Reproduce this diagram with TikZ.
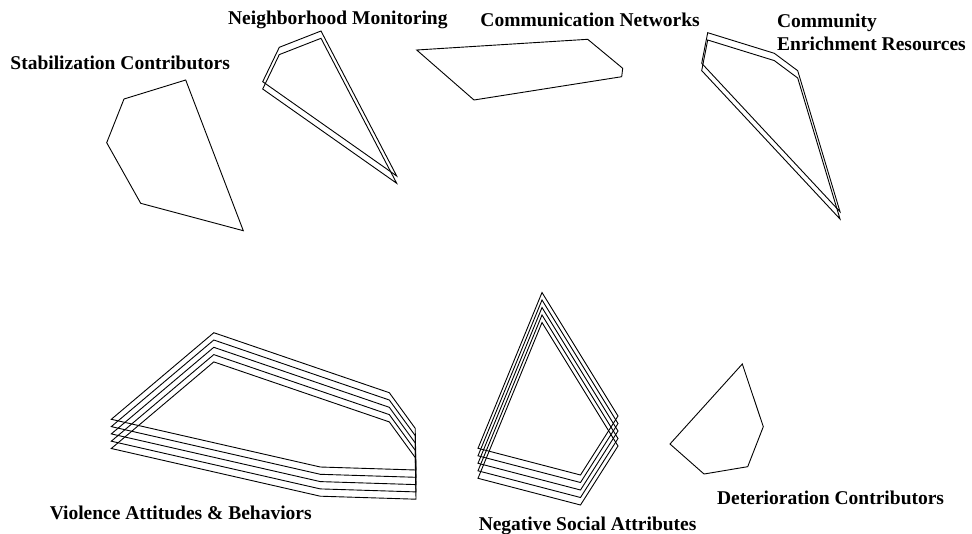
\documentclass[tikz,border=0pt]{standalone}
\usepackage{fontspec}
\setmainfont{Liberation Serif}
\begin{document}
\begin{tikzpicture}[x=1pt,y=-1pt,line width=0.9pt,line join=miter]
	\tikzstyle{grp}=[font=\bfseries\fontsize{19.5}{23.4}\selectfont,anchor=base west,inner sep=0pt,align=left]
	\tikzstyle{hull}=[draw=black]
	\useasboundingbox (0,0) rectangle (972,533);
	% single hulls
	\draw[hull] (185.7,80) -- (124,99) -- (106.7,142.7) -- (140.7,203.3) -- (243.3,230.7) -- cycle;
	\draw[hull] (416.7,50) -- (587.7,39.3) -- (622.7,68.3) -- (621.7,76.7) -- (474,100) -- cycle;
	\draw[hull] (742.3,364) -- (763.3,426.7) -- (747.7,466.7) -- (704,474) -- (670,444) -- cycle;
	% stacked hulls
	\foreach \k in {0,1}
	{
		\draw[hull,shift={(0,\k*7.3)}] (321,31) -- (279.3,47.3) -- (262.7,81.7) -- (396.7,176) -- cycle;
		\draw[hull,shift={(0,\k*7.3)}] (707.7,32.7) -- (774.3,53.3) -- (797.7,70.7) -- (840,211.7) -- (701.7,63.3) -- cycle;
	}
	\foreach \k in {0,...,4}
	{
		\draw[hull,shift={(0,\k*7.3)}] (213.8,332.7) -- (389.3,392.7) -- (415.2,428.3) -- (416,470) -- (320.3,467) -- (111.3,419.3) -- cycle;
		\draw[hull,shift={(0,\k*7.5)}] (542,292.5) -- (618,416) -- (580.5,475) -- (478,448.3) -- cycle;
	}
	% labels
	\node[grp] (stab) at (10,69.5) {Stabilization Contributors};
	\node[grp] (monitor) at (227.7,24) {Neighborhood Monitoring};
	\node[grp] (comm) at (480,26) {Communication Networks};
	\node[grp,anchor=north west] (enrich) at (776.7,13.5) {Community\\Enrichment Resources};
	\node[grp] (violence) at (49.3,519.5) {Violence Attitudes \& Behaviors};
	\node[grp] (negative) at (478.3,530.5) {Negative Social Attributes};
	\node[grp] (deter) at (716.7,504) {Deterioration Contributors};
\end{tikzpicture}
\end{document}
